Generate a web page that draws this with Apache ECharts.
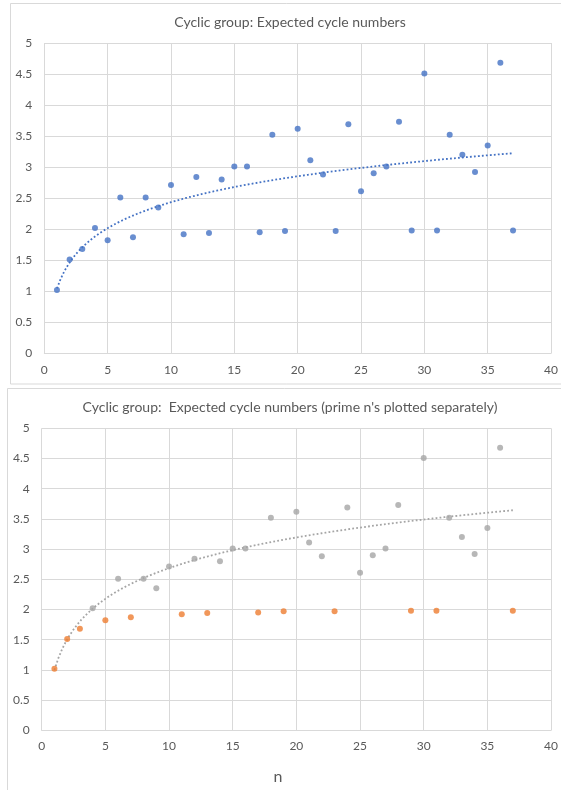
<!DOCTYPE html>
<html>
<head>
<meta charset="utf-8">
<script src="https://cdn.jsdelivr.net/npm/echarts@6/dist/echarts.min.js"></script>
<style>
html,body{margin:0;padding:0;background:#fff;}
#chart{width:561px;height:790px;}
</style>
</head>
<body>
<div id="chart"></div>
<script>
// n values and expected cycle numbers
const nValues = [1,2,3,4,5,6,7,8,9,10,11,12,13,14,15,16,17,18,19,20,21,22,23,24,25,26,27,28,29,30,31,32,33,34,35,36,37];
const cycleValues = [1.02,1.51,1.68,2.02,1.82,2.51,1.87,2.51,2.35,2.71,1.92,2.84,1.94,2.80,3.01,3.01,1.95,3.52,1.97,3.62,3.11,2.88,1.97,3.69,2.61,2.90,3.01,3.73,1.98,4.51,1.98,3.52,3.20,2.92,3.35,4.68,1.98];
// n's plotted separately (orange) in the lower chart
const primeN = [1,2,3,5,7,11,13,17,19,23,29,31,37];
const xTicks = [0,5,10,15,20,25,30,35,40];
const yTicks = [0,0.5,1,1.5,2,2.5,3,3.5,4,4.5,5];

const titleTop = 'Cyclic group: Expected cycle numbers';
const titleBottom = "Cyclic group:  Expected cycle numbers (prime n's plotted separately)";
const xAxisName = 'n';

const allPts = nValues.map((n,i)=>[n,cycleValues[i]]);
const primePts = allPts.filter(p=>primeN.includes(p[0]));
const otherPts = allPts.filter(p=>!primeN.includes(p[0]));

// logarithmic least-squares trendline (like the spreadsheet's log trendline)
function logFit(pts){
  const m = pts.length;
  let sx=0,sy=0,sxx=0,sxy=0;
  pts.forEach(([x,y])=>{const l=Math.log(x);sx+=l;sy+=y;sxx+=l*l;sxy+=l*y;});
  const a=(m*sxy-sx*sy)/(m*sxx-sx*sx);
  const b=(sy-a*sx)/m;
  return {a,b};
}
function trendLine(fit, x0, x1){
  const out=[];
  const steps=120;
  for(let k=0;k<=steps;k++){
    const x=x0+(x1-x0)*k/steps;
    out.push([x, fit.a*Math.log(x)+fit.b]);
  }
  return out;
}
const fitTop = logFit(allPts);
const fitBottom = logFit(otherPts);
const nMin = Math.min(...nValues), nMax = Math.max(...nValues);

const FONT = 'Lato, "Open Sans", sans-serif';
const labelColor = '#595959';
const gridColor = '#d9d9d9';

function xAxisCfg(gridIndex, margin){
  return {
    type:'value', gridIndex, min:xTicks[0], max:xTicks[xTicks.length-1], interval:5,
    axisLine:{show:true, lineStyle:{color:'#d9d9d9', width:1}},
    axisTick:{show:false},
    splitLine:{show:true, lineStyle:{color:gridColor, width:1}},
    axisLabel:{color:labelColor, fontSize:12, fontFamily:FONT, margin:margin}
  };
}
function yAxisCfg(gridIndex){
  return {
    type:'value', gridIndex, min:yTicks[0], max:yTicks[yTicks.length-1], interval:0.5,
    axisLine:{show:false}, axisTick:{show:false},
    splitLine:{show:true, lineStyle:{color:gridColor, width:1}},
    axisLabel:{color:labelColor, fontSize:12, fontFamily:FONT, margin:12}
  };
}

const chart = echarts.init(document.getElementById('chart'), null, {renderer:'canvas'});
chart.setOption({
  backgroundColor:'#ffffff',
  animation:false,
  graphic:[
    {type:'rect', shape:{x:10.5,y:3.5,width:600,height:380.5}, style:{fill:'none', stroke:'#d9d9d9', lineWidth:1}, z:-1},
    {type:'rect', shape:{x:7.5,y:388.5,width:600,height:450}, style:{fill:'none', stroke:'#d9d9d9', lineWidth:1}, z:-1},
    {type:'text', x:290, y:22, style:{text:titleTop, fontSize:14, fontFamily:FONT, fill:labelColor, align:'center', verticalAlign:'middle'}},
    {type:'text', x:290, y:407, style:{text:titleBottom, fontSize:14, fontFamily:FONT, fill:labelColor, align:'center', verticalAlign:'middle'}},
    {type:'text', x:278, y:777, style:{text:xAxisName, fontSize:16, fontFamily:FONT, fill:labelColor, align:'center', verticalAlign:'middle'}}
  ],
  grid:[
    {left:44.3, top:43, width:509, height:310.3},
    {left:41.7, top:428.3, width:512.3, height:302}
  ],
  xAxis:[xAxisCfg(0,11), xAxisCfg(1,10)],
  yAxis:[yAxisCfg(0), yAxisCfg(1)],
  series:[
    {type:'line', xAxisIndex:0, yAxisIndex:0, data:trendLine(fitTop,nMin,nMax), showSymbol:false, symbol:'none',
     lineStyle:{color:'#4472C4', width:1.8, type:[1.8,2.2]}, z:2, silent:true},
    {type:'scatter', xAxisIndex:0, yAxisIndex:0, data:allPts, symbolSize:6,
     itemStyle:{color:'#4472C4'}, z:3},
    {type:'line', xAxisIndex:1, yAxisIndex:1, data:trendLine(fitBottom,nMin,nMax), showSymbol:false, symbol:'none',
     lineStyle:{color:'#A5A5A5', width:1.8, type:[1.8,2.2]}, z:2, silent:true},
    {type:'scatter', xAxisIndex:1, yAxisIndex:1, data:otherPts, symbolSize:6,
     itemStyle:{color:'#A5A5A5'}, z:3},
    {type:'scatter', xAxisIndex:1, yAxisIndex:1, data:primePts, symbolSize:6,
     itemStyle:{color:'#ED7D31'}, z:4}
  ]
});
</script>
</body>
</html>
